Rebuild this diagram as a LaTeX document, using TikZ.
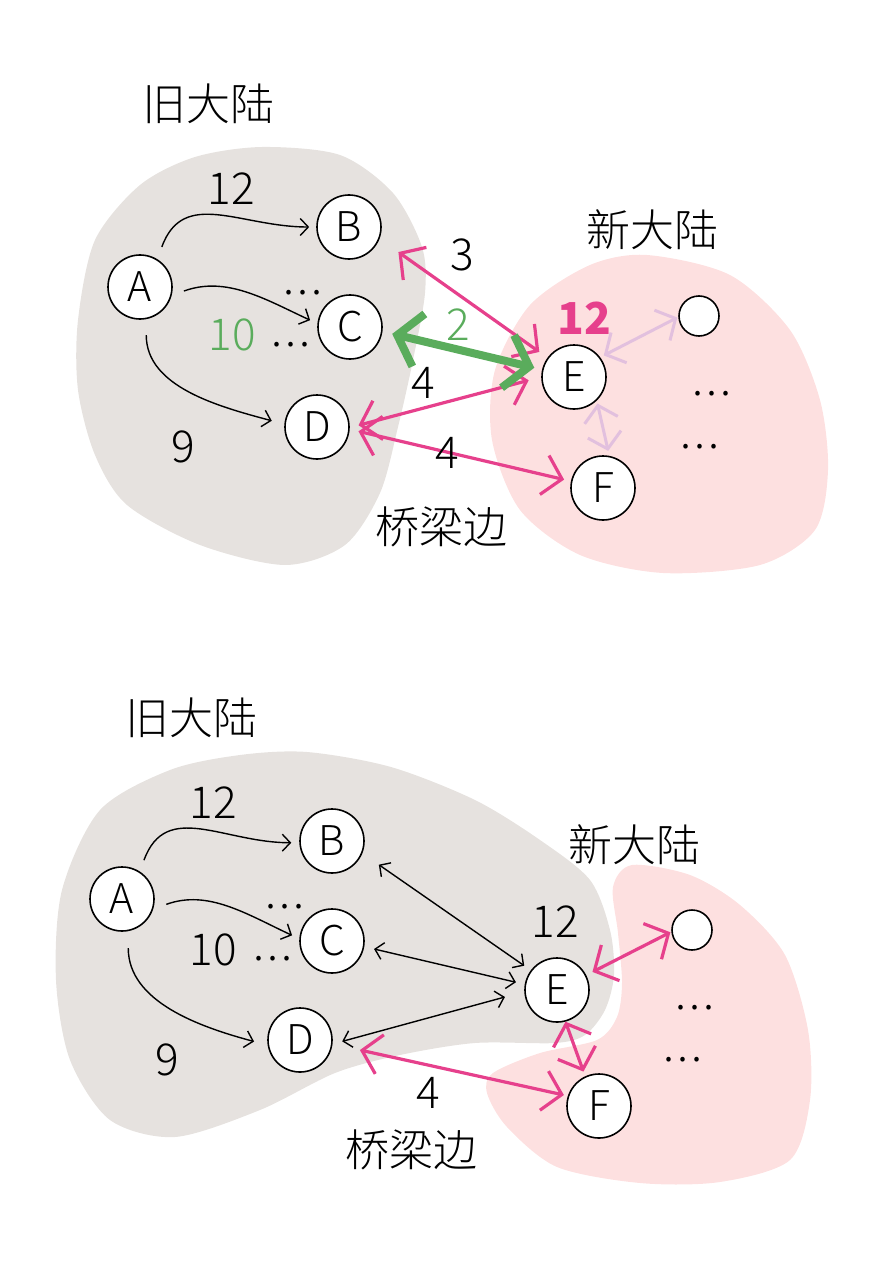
\documentclass[tikz,border=0pt]{standalone}
\usepackage{fontspec}
\IfFontExistsTF{Noto Sans CJK SC Light}{\setmainfont{Noto Sans CJK SC Light}}{%
  \IfFontExistsTF{Noto Sans CJK SC DemiLight}{\setmainfont{Noto Sans CJK SC DemiLight}}{\setmainfont{Noto Sans CJK SC}}}
\newfontfamily\boldfont{Noto Sans CJK SC}
\usetikzlibrary{arrows.meta}

\definecolor{landgray}{RGB}{230,226,223}
\definecolor{landpink}{RGB}{253,224,224}
\definecolor{bridge}{RGB}{230,64,140}
\definecolor{best}{RGB}{90,172,92}
\definecolor{faint}{RGB}{226,192,222}

\begin{document}
\begin{tikzpicture}[x=1pt,y=1pt,
  every node/.style={font=\fontsize{44}{48}\selectfont},
  nd/.style={draw,circle,fill=white,line width=1.6pt,minimum size=64pt,inner sep=0pt,font=\fontsize{41}{44}\selectfont},
  sm/.style={draw,circle,fill=white,line width=1.6pt,minimum size=40pt,inner sep=0pt},
  tarr/.style={line width=1.4pt,>={Straight Barb[length=8pt,width=17pt]}},
  parr/.style={draw=bridge,line width=3.2pt,>={Straight Barb[length=18pt,width=40pt]}},
  garr/.style={draw=best,line width=8pt,>={Straight Barb[length=22pt,width=54pt]}},
  larr/.style={draw=faint,line width=3pt,>={Straight Barb[length=15pt,width=34pt]}}]

  \useasboundingbox (0,0) rectangle (871,-1273);

  \fill[landgray] plot[smooth cycle] coordinates {(262,-147) (340,-155) (393,-193) (422,-247) (425,-293) (413,-360) (398,-427) (380,-493) (345,-545) (285,-565) (200,-545) (127,-505) (95,-455) (78,-390) (78,-320) (95,-240) (140,-185) (195,-157)};
  \fill[landpink] plot[smooth cycle] coordinates {(647,-255) (730,-275) (790,-330) (820,-400) (828,-470) (815,-530) (760,-565) (663,-573) (580,-555) (520,-510) (492,-440) (495,-370) (530,-305) (590,-265)};

  \node[nd] (A1) at (140,-287) {A};
  \node[nd] (B1) at (349,-227) {B};
  \node[nd] (C1) at (350,-327) {C};
  \node[nd] (D1) at (317,-427) {D};
  \node[nd] (E1) at (574,-377) {E};
  \node[nd] (F1) at (603,-488) {F};
  \node[sm] (N1) at (699,-316) {};

  \draw[tarr,->,shorten <=13pt,shorten >=7pt] (A1.58) to[out=70,in=180,looseness=1.2] (B1.180);
  \draw[tarr,->,shorten <=13pt,shorten >=8pt] (A1.-15) to[out=20,in=155] (C1.174);
  \draw[tarr,->,shorten <=16pt,shorten >=13pt] (A1.-79) to[out=-90,in=165] (D1.175);

  \draw[larr,<->,shorten <=4pt,shorten >=1pt] (E1.37) -- (N1.183);
  \draw[larr,<->,shorten <=3pt,shorten >=5pt] (E1.-46) -- (F1.79);
  \draw[parr,<->,shorten <=23pt,shorten >=10pt] (B1.-21) -- (E1.144);
  \draw[parr,<->,shorten <=9pt,shorten >=13pt] (D1.-1) -- (E1.180);
  \draw[garr,<->,shorten <=10pt,shorten >=8pt] (C1.-8) -- (E1.167);
  \draw[parr,<->,shorten <=9pt,shorten >=7pt] (D1.-4) -- (F1.168);

  \node (old1) at (208,-104) {旧大陆};
  \node (new1) at (652,-230) {新大陆};
  \node (brg1) at (441,-527) {桥梁边};
  \node (wAB1) at (231,-189) {12};
  \node[text=best] (wAC1) at (232,-335) {10};
  \node (wAD1) at (183,-447) {9};
  \node (wBE1) at (462,-255) {3};
  \node[text=best] (wCE1) at (458,-325) {2};
  \node (wDE1) at (423,-383) {4};
  \node (wDF1) at (447,-453) {4};
  \node[text=bridge,font=\fontsize{44}{48}\boldfont\bfseries] (dE1) at (584,-318) {12};
  \node (dotC1) at (303,-293) {.\kern3pt.\kern3pt.};
  \node (dotC2) at (291,-345) {.\kern3pt.\kern3pt.};
  \node (dotR1) at (712,-394) {.\kern3pt.\kern3pt.};
  \node (dotR2) at (700,-447) {.\kern3pt.\kern3pt.};

  \fill[landgray] plot[smooth cycle] coordinates {(307,-752) (391,-767) (475,-800) (540,-840) (590,-880) (610,-930) (614,-975) (605,-1010) (585,-1035) (555,-1043) (475,-1043) (400,-1055) (335,-1073) (260,-1110) (175,-1137) (110,-1120) (70,-1060) (56,-980) (62,-890) (100,-810) (170,-770) (240,-755)};
  \fill[landpink] plot[smooth cycle] coordinates {(632,-865) (690,-875) (740,-905) (785,-955) (808,-1030) (810,-1100) (790,-1160) (720,-1182) (640,-1183) (557,-1167) (507,-1127) (487,-1093) (493,-1073) (540,-1053) (597,-1040) (617,-1017) (622,-983) (618,-933) (613,-887)};

  \node[nd] (A2) at (122,-899) {A};
  \node[nd] (B2) at (332,-841) {B};
  \node[nd] (C2) at (332,-941) {C};
  \node[nd] (D2) at (300,-1040) {D};
  \node[nd] (E2) at (557,-990) {E};
  \node[nd] (F2) at (599,-1106) {F};
  \node[sm] (N2) at (692,-930) {};

  \draw[tarr,->,shorten <=12pt,shorten >=8pt] (A2.57) to[out=70,in=180,looseness=1.2] (B2.183);
  \draw[tarr,->,shorten <=14pt,shorten >=8pt] (A2.-18) to[out=20,in=155] (C2.176);
  \draw[tarr,->,shorten <=17pt,shorten >=14pt] (A2.-79) to[out=-90,in=165] (D2.189);
  \draw[tarr,<->,shorten <=20pt,shorten >=8pt] (B2.-22) -- (E2.143);
  \draw[tarr,<->,shorten <=10pt,shorten >=9pt] (C2.-10) -- (E2.170);
  \draw[tarr,<->,shorten <=10pt,shorten >=20pt] (D2.-7) -- (E2.183);

  \draw[parr,<->,shorten <=28pt,shorten >=4pt] (D2.-7) -- (F2.162);
  \draw[parr,<->,shorten <=7pt,shorten >=1pt] (E2.27) -- (N2.185);
  \draw[parr,<->,shorten <=0pt,shorten >=5pt] (E2.-75) -- (F2.115);

  \node (old2) at (191,-718) {旧大陆};
  \node (new2) at (634,-845) {新大陆};
  \node (brg2) at (411,-1150) {桥梁边};
  \node (wAB2) at (213,-803) {12};
  \node (wAC2) at (213,-950) {10};
  \node (wAD2) at (167,-1060) {9};
  \node (wDF2) at (428,-1093) {4};
  \node (dE2) at (555,-922) {12};
  \node (dotC3) at (285,-907) {.\kern3pt.\kern3pt.};
  \node (dotC4) at (273,-959) {.\kern3pt.\kern3pt.};
  \node (dotR3) at (695,-1008) {.\kern3pt.\kern3pt.};
  \node (dotR4) at (683,-1060) {.\kern3pt.\kern3pt.};

\end{tikzpicture}
\end{document}
